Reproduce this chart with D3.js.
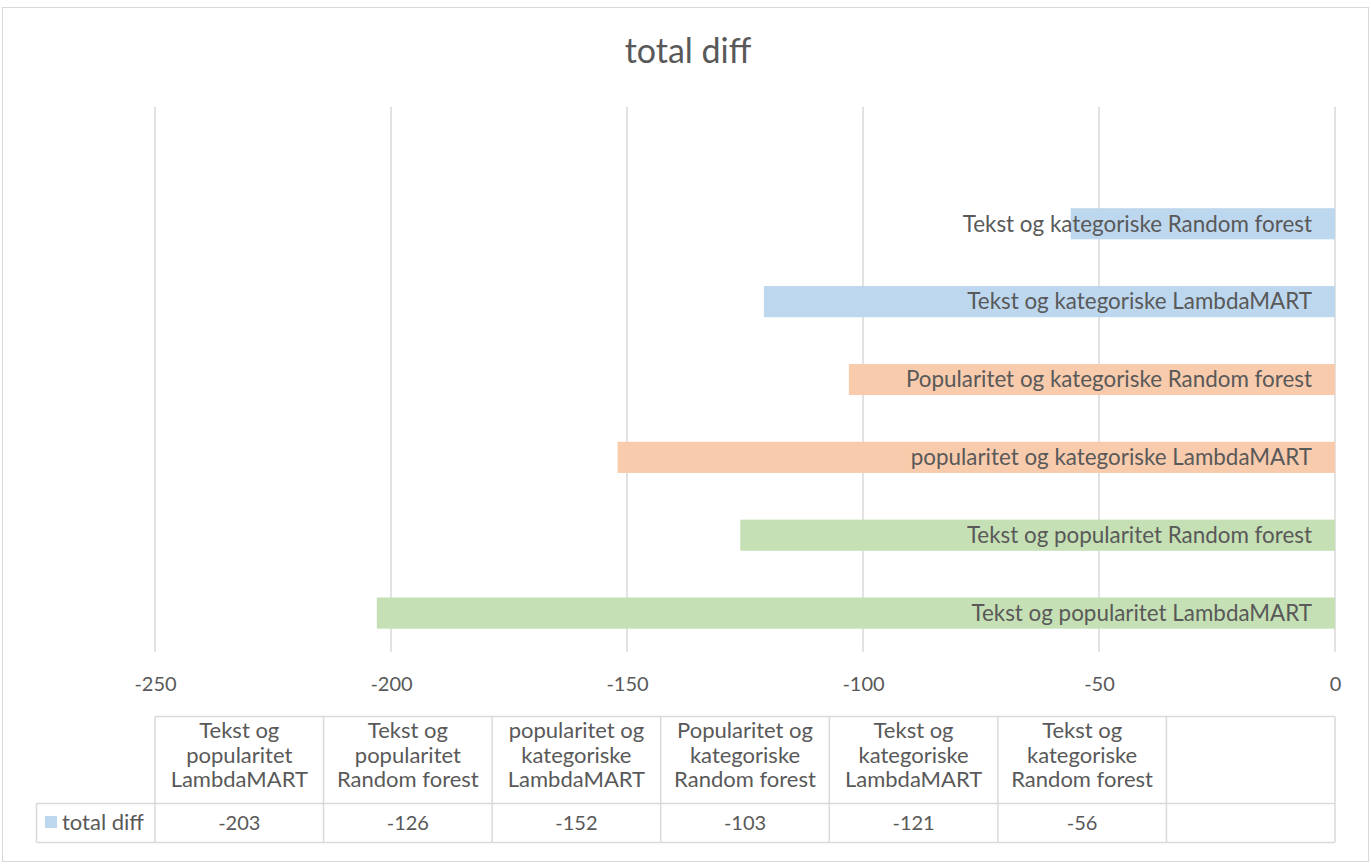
<!DOCTYPE html>
<html>
<head>
<meta charset="utf-8">
<title>total diff</title>
<script src="https://cdn.jsdelivr.net/npm/d3@7"></script>
<style>
  body { margin: 0; background: #fff; }
  svg text { font-family: Lato, "Open Sans", sans-serif; fill: #595959; }
</style>
</head>
<body>
<script>
// data, bottom bar first
var categories = ["Tekst og popularitet LambdaMART", "Tekst og popularitet Random forest",
                  "popularitet og kategoriske LambdaMART", "Popularitet og kategoriske Random forest",
                  "Tekst og kategoriske LambdaMART", "Tekst og kategoriske Random forest"];
var values = [-203, -126, -152, -103, -121, -56];
var groups = ["Tekst og popularitet", "Tekst og popularitet",
              "popularitet og kategoriske", "popularitet og kategoriske",
              "Tekst og kategoriske", "Tekst og kategoriske"];
var ticks = [-250, -200, -150, -100, -50, 0];
var seriesName = "total diff";

var width = 1371, height = 865;
var plotLeft = 155, plotRight = 1335, plotTop = 107, plotBottom = 652;

var svg = d3.select("body").append("svg")
  .attr("width", width).attr("height", height);

svg.append("rect")
  .attr("x", 2.5).attr("y", 7.5).attr("width", 1366).attr("height", 854)
  .attr("fill", "#fff").attr("stroke", "#d9d9d9");

svg.append("text")
  .attr("x", 688).attr("y", 63)
  .attr("text-anchor", "middle")
  .style("font-size", "34px")
  .text(seriesName);

var x = d3.scaleLinear().domain([-250, 0]).range([plotLeft, plotRight]);
// extra empty slot on top, same as the empty table column
var y = d3.scaleBand().domain(categories.concat([""]))
  .range([plotBottom, plotTop]).paddingInner(0.6).paddingOuter(0.3);

var color = d3.scaleOrdinal()
  .domain(["Tekst og kategoriske", "popularitet og kategoriske", "Tekst og popularitet"])
  .range(["#bdd7ee", "#f8cbad", "#c5e0b4"]);

svg.append("g").selectAll("line")
  .data(ticks).enter().append("line")
  .attr("x1", d => x(d)).attr("x2", d => x(d))
  .attr("y1", plotTop).attr("y2", plotBottom)
  .attr("stroke", "#d9d9d9").attr("stroke-width", 1.5);

var xAxis = svg.append("g")
  .attr("transform", "translate(0," + plotBottom + ")")
  .call(d3.axisBottom(x).tickValues(ticks).tickSize(0).tickPadding(25)
        .tickFormat(d => String(d)));
xAxis.select(".domain").remove();
xAxis.selectAll("text").style("font-size", "20px").attr("fill", "#595959");

var rows = categories.map((c, i) => ({name: c, value: values[i], group: groups[i]}));

svg.append("g").selectAll("rect")
  .data(rows).enter().append("rect")
  .attr("x", d => x(d.value))
  .attr("width", d => x(0) - x(d.value))
  .attr("y", d => y(d.name))
  .attr("height", y.bandwidth())
  .attr("fill", d => color(d.group));

svg.append("g").selectAll("text")
  .data(rows).enter().append("text")
  .attr("x", x(0) - 23)
  .attr("y", d => y(d.name) + y.bandwidth() / 2)
  .attr("dy", "0.35em")
  .attr("text-anchor", "end")
  .style("font-size", "22.4px")
  .text(d => d.name);

// data table
var colW = (plotRight - plotLeft) / 7;
var tTop = 716.5, tMid = 803.5, tBot = 842.5, legLeft = 36.5;
var tbl = svg.append("g");
var cols = categories.concat([""]);
var lineColor = "#d9d9d9";

function hline(x1, x2, yy) {
  tbl.append("line").attr("x1", x1).attr("x2", x2).attr("y1", yy).attr("y2", yy)
    .attr("stroke", lineColor).attr("stroke-width", 1.5);
}
hline(plotLeft, plotRight, tTop);
hline(legLeft, plotRight, tMid);
hline(legLeft, plotRight, tBot);
tbl.append("line").attr("x1", legLeft).attr("x2", legLeft).attr("y1", tMid).attr("y2", tBot)
  .attr("stroke", lineColor).attr("stroke-width", 1.5);
tbl.selectAll(".vl").data(d3.range(8)).enter().append("line")
  .attr("x1", i => plotLeft + i * colW).attr("x2", i => plotLeft + i * colW)
  .attr("y1", tTop).attr("y2", tBot)
  .attr("stroke", lineColor).attr("stroke-width", 1.5);

function wrap(str, maxW, size) {
  var words = str.split(" "), lines = [], cur = "";
  var probe = svg.append("text").style("font-size", size + "px");
  words.forEach(function (w) {
    var t = cur ? cur + " " + w : w;
    probe.text(t);
    if (cur && probe.node().getComputedTextLength() > maxW) {
      lines.push(cur); cur = w;
    } else cur = t;
  });
  if (cur) lines.push(cur);
  probe.remove();
  return lines;
}

cols.forEach(function (c, i) {
  if (!c) return;
  var cx = plotLeft + (i + 0.5) * colW;
  var lines = wrap(c, 160, 22);
  var t = tbl.append("text").attr("text-anchor", "middle").style("font-size", "22px");
  lines.forEach(function (l, j) {
    t.append("tspan").attr("x", cx).attr("y", 738 + j * 24.5).text(l);
  });
  tbl.append("text").attr("x", cx).attr("y", 830)
    .attr("text-anchor", "middle").style("font-size", "20px")
    .text(values[i]);
});

tbl.append("rect").attr("x", 45).attr("y", 816).attr("width", 12).attr("height", 12)
  .attr("fill", "#bdd7ee");
tbl.append("text").attr("x", 62).attr("y", 830).style("font-size", "22px").text(seriesName);
</script>
</body>
</html>
